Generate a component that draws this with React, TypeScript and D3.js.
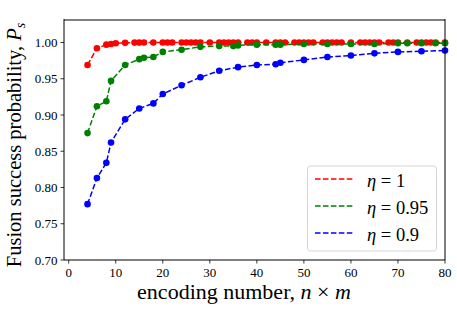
import React from 'react';
import * as d3 from 'd3';

// n x m values and fusion success probabilities
const redX = [4, 6, 8, 9, 10, 12, 14, 15, 16, 18, 20, 21, 22, 24, 25, 26, 27, 28, 30, 32, 33, 34, 35, 36, 38, 39, 40,
  42, 44, 45, 46, 48, 49, 50, 51, 52, 54, 55, 56, 57, 58, 60, 62, 63, 64, 65, 66, 68, 69, 70, 72, 74, 75, 76, 77, 78, 80];
const redY = [0.969, 0.992, 0.997, 0.998, 0.999, 0.9995, 0.9998, 0.9998, 0.9999, 1.0, 1.0, 1.0, 1.0, 1.0, 1.0, 1.0, 1.0, 1.0, 1.0, 1.0, 1.0, 1.0, 1.0, 1.0, 1.0, 1.0, 1.0,
  1.0, 1.0, 1.0, 1.0, 1.0, 1.0, 1.0, 1.0, 1.0, 1.0, 1.0, 1.0, 1.0, 1.0, 1.0, 1.0, 1.0, 1.0, 1.0, 1.0, 1.0, 1.0, 1.0, 1.0, 1.0, 1.0, 1.0, 1.0, 1.0, 1.0];

const greenX = [4, 6, 8, 9, 12, 15, 16, 18, 20, 24, 28, 32, 35, 36, 40, 44, 45, 50, 55, 60, 65, 70, 72, 75, 78, 80];
const greenY = [0.875, 0.912, 0.919, 0.947, 0.969, 0.977, 0.979, 0.980, 0.987, 0.990, 0.994, 0.995, 0.995, 0.996, 0.997, 0.997,
  0.997, 0.998, 0.998, 0.998, 0.998, 0.999, 0.999, 0.999, 0.999, 0.999];

const blueX = [4, 6, 8, 9, 12, 15, 18, 20, 24, 28, 32, 36, 40, 44, 45, 50, 55, 60, 65, 70, 75, 80];
const blueY = [0.777, 0.813, 0.834, 0.862, 0.894, 0.909, 0.916, 0.929, 0.941, 0.952, 0.961, 0.966, 0.969, 0.970, 0.972,
  0.976, 0.980, 0.982, 0.985, 0.987, 0.988, 0.989];

const xTicks = [0, 10, 20, 30, 40, 50, 60, 70, 80];
const yTicks = [0.70, 0.75, 0.80, 0.85, 0.90, 0.95, 1.00];
const legendLabels = ['1', '0.95', '0.9'];

const WIDTH = 457;
const HEIGHT = 309;
const margin = { top: 20, right: 12, bottom: 49, left: 64 };
const FONT = '"Liberation Serif", "Times New Roman", serif';

const series = [
  { xs: redX, ys: redY, color: '#ff0000', label: legendLabels[0] },
  { xs: greenX, ys: greenY, color: '#008000', label: legendLabels[1] },
  { xs: blueX, ys: blueY, color: '#0000ff', label: legendLabels[2] },
];

export default function App() {
  const x = d3.scaleLinear().domain([-1, 80]).range([margin.left, WIDTH - margin.right]);
  const y = d3.scaleLinear().domain([0.70, 1.031]).range([HEIGHT - margin.bottom, margin.top]);
  const line = d3.line<[number, number]>().x(d => x(d[0])).y(d => y(d[1]));

  const x0 = margin.left;
  const x1 = WIDTH - margin.right;
  const y0 = HEIGHT - margin.bottom;
  const y1 = margin.top;

  return (
    <div style={{ position: 'absolute', left: 0, top: 0 }}>
      <svg width={WIDTH} height={HEIGHT} style={{ display: 'block', background: '#fff' }} fontFamily={FONT}>
        {series.map((s, i) => {
          const pts = s.xs.map((v, j) => [v, s.ys[j]] as [number, number]);
          return (
            <g key={i}>
              <path d={line(pts) || ''} fill="none" stroke={s.color} strokeWidth={1.5} strokeDasharray="5.55,2.4" />
              {pts.map((p, j) => (
                <circle key={j} cx={x(p[0])} cy={y(p[1])} r={3.3} fill={s.color} />
              ))}
            </g>
          );
        })}

        {/* frame */}
        <line x1={x0} x2={x1} y1={y1} y2={y1} stroke="#808080" strokeWidth={2} />
        <line x1={x0} x2={x0} y1={y0} y2={y1 - 1} stroke="#000" strokeWidth={1} />
        <line x1={x1} x2={x1} y1={y0} y2={y1 - 1} stroke="#000" strokeWidth={1} />
        <line x1={x0} x2={x1} y1={y0} y2={y0} stroke="#000" strokeWidth={1} />

        {/* x ticks */}
        {xTicks.map(t => (
          <g key={t} transform={`translate(${x(t)},${y0})`}>
            <line y1={0} y2={3.5} stroke="#000" strokeWidth={0.8} />
            <text y={17} textAnchor="middle" fontSize={13}>{t}</text>
          </g>
        ))}

        {/* y ticks */}
        {yTicks.map(t => (
          <g key={t} transform={`translate(${x0},${y(t)})`}>
            <line x1={0} x2={-3.5} stroke="#000" strokeWidth={0.8} />
            <text x={-6.5} dy="0.35em" textAnchor="end" fontSize={13}>{d3.format('.2f')(t)}</text>
          </g>
        ))}

        {/* axis labels */}
        <text x={244} y={299} textAnchor="middle" fontSize={22}>
          encoding number, <tspan fontStyle="italic">n</tspan> × <tspan fontStyle="italic">m</tspan>
        </text>
        <text transform={`translate(21,${(y0 + y1) / 2 + 5}) rotate(-90)`} textAnchor="middle" fontSize={20.5}>
          Fusion success probability, <tspan fontStyle="italic">P</tspan>
          <tspan fontStyle="italic" fontSize={14} dy={4}>s</tspan>
        </text>

        {/* legend */}
        <g>
          <rect x={307.5} y={166} width={129} height={85} rx={3} fill="#fff" stroke="#d6d6d6" strokeWidth={1} />
          {series.map((s, i) => {
            const ry = 179 + i * 27;
            return (
              <g key={i}>
                <line x1={315} x2={353} y1={ry} y2={ry} stroke={s.color} strokeWidth={1.5} strokeDasharray="5.55,2.4" />
                <text x={367} y={ry + 7.5} fontSize={18.5}>
                  <tspan fontStyle="italic">η</tspan> = {s.label}
                </text>
              </g>
            );
          })}
        </g>
      </svg>
    </div>
  );
}
